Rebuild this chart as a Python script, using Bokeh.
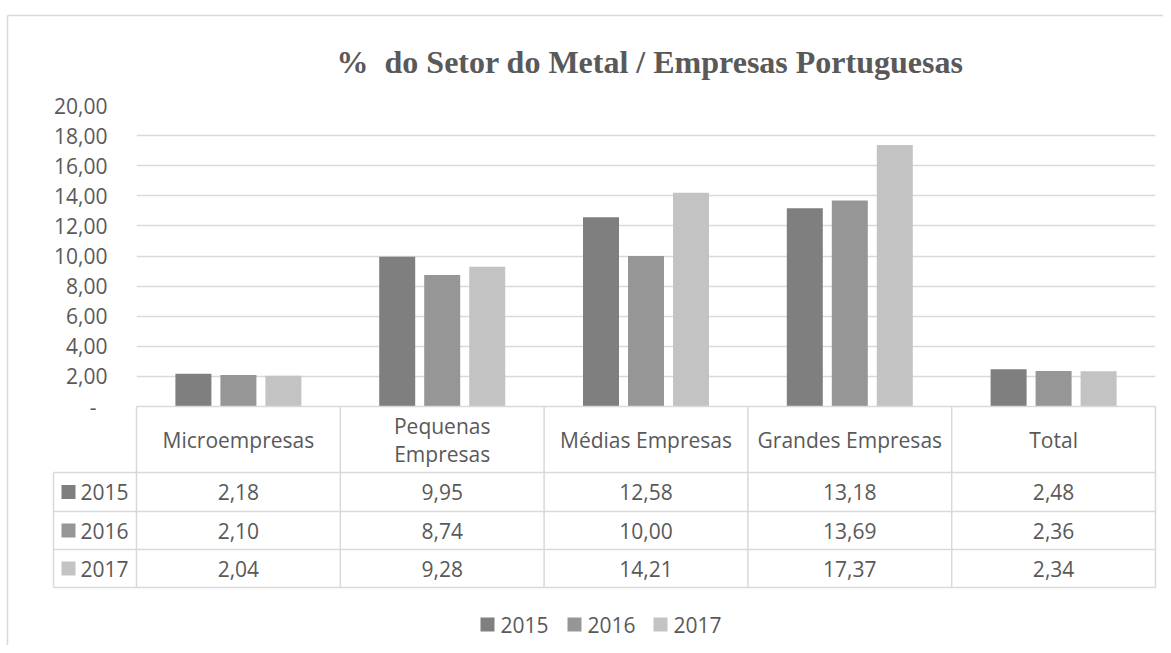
from bokeh.plotting import figure
from bokeh.models import FactorRange, Range1d, ColumnDataSource, FixedTicker
from bokeh.transform import dodge
from bokeh.core.properties import value
from bokeh.embed import file_html
from bokeh.resources import INLINE

# ---------------- data ----------------
title = "%\u00a0\u00a0do Setor do Metal / Empresas Portuguesas"
categories = ["Microempresas", "Pequenas Empresas", "Médias Empresas", "Grandes Empresas", "Total"]
header_labels = ["Microempresas", "Pequenas\nEmpresas", "Médias Empresas", "Grandes Empresas", "Total"]
years = ["2015", "2016", "2017"]
v2015 = [2.18, 9.95, 12.58, 13.18, 2.48]
v2016 = [2.10, 8.74, 10.00, 13.69, 2.36]
v2017 = [2.04, 9.28, 14.21, 17.37, 2.34]
y_ticks = [0, 2, 4, 6, 8, 10, 12, 14, 16, 18, 20]

# ---------------- styles ----------------
colors = ["#7f7f7f", "#969696", "#c3c3c3"]
TXT = "#595959"
LINE = "#d9d9d9"
FONT = "Open Sans"

W, H = 1163, 645
PX0, PX1 = 136.0, 1155.0      # x of plot frame (page px)
PY0, PY1 = 406.0, 105.0       # y of value 0 and value 20
CW = (PX1 - PX0) / len(categories)
UY = (PY0 - PY1) / 20.0


def dx(sx):
    return (sx - PX0) / CW


def dy(sy):
    return (PY0 - sy) / UY


def fmt(v):
    return f"{v:.2f}".replace(".", ",")


src = ColumnDataSource(dict(cat=categories, y2015=v2015, y2016=v2016, y2017=v2017))

p = figure(width=W, height=H,
           x_range=FactorRange(factors=categories, range_padding=0),
           y_range=Range1d(0, 20),
           output_backend="svg", toolbar_location=None, x_axis_location=None,
           min_border_left=int(PX0), min_border_right=int(W - PX1),
           min_border_top=int(PY1), min_border_bottom=int(H - PY0))
p.outline_line_color = None
p.background_fill_color = "white"
p.border_fill_color = "white"

# axis
ax = p.yaxis[0]
ax.ticker = FixedTicker(ticks=y_ticks)
ax.major_label_overrides = {t: (fmt(t) if t else "-\u00a0\u00a0") for t in y_ticks}
ax.axis_line_color = None
ax.major_tick_line_color = None
ax.minor_tick_line_color = None
ax.major_tick_out = 0
ax.major_tick_in = 0
ax.major_label_standoff = 29
ax.major_label_text_font = FONT
ax.major_label_text_font_size = "21px"
ax.major_label_text_color = TXT
p.xgrid.grid_line_color = None
p.ygrid.grid_line_color = LINE
p.ygrid.grid_line_width = 1.3

# bars
offs = [-45.0 / CW, 0.0, 45.0 / CW]
bw = 36.0 / CW
for yr, col, off in zip(years, colors, offs):
    p.vbar(x=dodge("cat", off, range=p.x_range), top="y" + yr, width=bw,
           bottom=0, source=src, fill_color=col, line_color=None)

# title
p.text(x=[dx(649.5)], y=[dy(61)], text=[title], text_align="center",
       text_baseline="middle", text_font=value("Liberation Serif"),
       text_font_style="bold", text_font_size="32px", text_color=TXT, level="overlay")

# outer chart border
p.segment(x0=[dx(7), dx(7)], y0=[dy(15), dy(15)], x1=[dx(1171), dx(7)], y1=[dy(15), dy(653)],
          line_color=LINE, line_width=1.5, level="overlay")

# data table grid
row_edges = [472.0, 511.0, 549.0, 587.0]
hx0, hy0, hx1, hy1 = [], [], [], []
hx0.append(0); hy0.append(0); hx1.append(len(categories)); hy1.append(0)
for ry in row_edges:
    hx0.append(dx(53)); hy0.append(dy(ry)); hx1.append(len(categories)); hy1.append(dy(ry))
for i in range(len(categories) + 1):
    hx0.append(i); hy0.append(0); hx1.append(i); hy1.append(dy(row_edges[-1]))
hx0.append(dx(53)); hy0.append(dy(row_edges[0])); hx1.append(dx(53)); hy1.append(dy(row_edges[-1]))
p.segment(x0=hx0, y0=hy0, x1=hx1, y1=hy1, line_color=LINE, line_width=1.5, level="overlay")

# header texts
p.text(x=categories, y=[dy((406 + 472) / 2)] * len(categories), text=header_labels,
       text_align="center", text_baseline="middle", text_font=value(FONT),
       text_font_size="21px", text_color=TXT, text_line_height=1.0, level="overlay")

# rows
rows = [v2015, v2016, v2017]
for r, (yr, col, vals) in enumerate(zip(years, colors, rows)):
    cy = dy((row_edges[r] + row_edges[r + 1]) / 2)
    p.text(x=categories, y=[cy] * len(categories), text=[fmt(v) for v in vals],
           text_align="center", text_baseline="middle", text_font=value(FONT),
           text_font_size="21px", text_color=TXT, level="overlay")
    p.rect(x=[dx(68)], y=[cy], width=14, height=14, width_units="screen",
           height_units="screen", fill_color=col, line_color=None, level="overlay")
    p.text(x=[dx(80)], y=[cy], text=[yr], text_align="left", text_baseline="middle",
           text_font=value(FONT), text_font_size="21px", text_color=TXT, level="overlay")

# legend
leg_sq = [487.0, 574.0, 660.0]
for yr, col, sx in zip(years, colors, leg_sq):
    p.rect(x=[dx(sx)], y=[dy(624)], width=14, height=14, width_units="screen",
           height_units="screen", fill_color=col, line_color=None, level="overlay")
    p.text(x=[dx(sx + 13)], y=[dy(624)], text=[yr], text_align="left", text_baseline="middle",
           text_font=value(FONT), text_font_size="21px", text_color=TXT, level="overlay")

open("out.html", "w").write(file_html(p, INLINE))
